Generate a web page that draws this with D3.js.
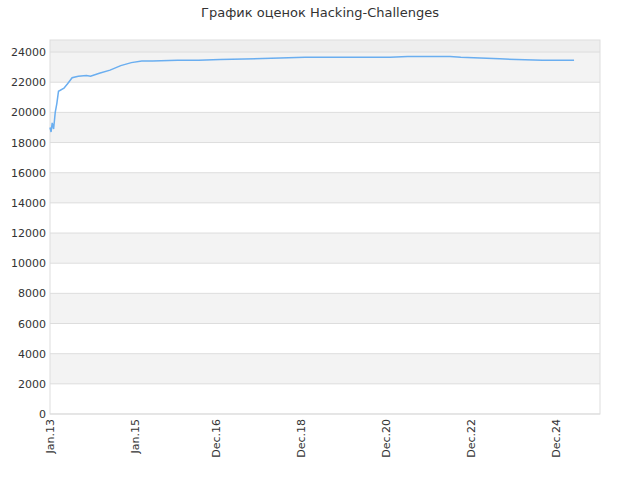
<!DOCTYPE html>
<html><head><meta charset="utf-8">
<script src="https://cdn.jsdelivr.net/npm/d3@7"></script>
<style>body{margin:0;background:#fff;font-family:"DejaVu Sans",sans-serif;}</style>
</head><body>
<svg id="chart" width="640" height="480"></svg>
<script>
const fechas = ["2013-01-01","2013-01-10","2013-01-20","2013-02-01","2013-02-15","2013-03-01","2013-03-15","2013-05-01","2013-06-01",
  "2013-07-10","2013-09-01","2013-11-10","2013-12-15","2014-03-01","2014-06-01","2014-09-01","2014-12-01","2015-03-01","2015-06-01",
  "2016-01-01","2016-07-01","2017-01-01","2018-06-01","2019-01-01","2021-01-01","2021-06-01","2022-06-01","2022-09-01",
  "2023-08-01","2024-08-01","2025-05-01"];
const valores = [19000,18700,19300,18900,20000,20600,21400,21600,21900,
  22300,22400,22450,22400,22600,22800,23100,23300,23400,23400,
  23450,23450,23500,23600,23650,23650,23700,23700,23650,
  23550,23450,23450];
const ticksX = ["2013-01-01","2015-01-01","2016-12-01","2018-12-01","2020-12-01","2022-12-01","2024-12-01"];
const etiquetasX = ["Jan.13","Jan.15","Dec.16","Dec.18","Dec.20","Dec.22","Dec.24"];
const ticksY = [0,2000,4000,6000,8000,10000,12000,14000,16000,18000,20000,22000,24000];

const svg = d3.select('#chart');
const izq = 50, der = 600, arriba = 40, abajo = 414;
const parse = d3.timeParse('%Y-%m-%d');
const x = d3.scaleTime().domain([parse("2013-01-01"), parse("2025-12-10")]).range([izq, der]);
const y = d3.scaleLinear().domain([0, 24800]).range([abajo, arriba]);

// bandas
svg.append('rect').attr('x', izq).attr('width', der - izq)
  .attr('y', y(24800)).attr('height', y(24000) - y(24800)).attr('fill', '#eeeeee');
ticksY.slice(0, -1).forEach((t, i) => {
  if (i % 2 === 1) svg.append('rect').attr('x', izq).attr('width', der - izq)
    .attr('y', y(t + 2000)).attr('height', y(t) - y(t + 2000)).attr('fill', '#f3f3f3');
});
svg.selectAll('line.grid').data(ticksY).join('line')
  .attr('x1', izq).attr('x2', der).attr('y1', d => y(d)).attr('y2', d => y(d))
  .attr('stroke', '#dddddd');
svg.append('rect').attr('x', izq).attr('y', arriba).attr('width', der - izq).attr('height', abajo - arriba)
  .attr('fill', 'none').attr('stroke', '#dddddd');

svg.selectAll('text.ylab').data(ticksY).join('text')
  .attr('x', izq - 4).attr('y', d => y(d) + 4).attr('text-anchor', 'end')
  .attr('font-size', 11).attr('fill', '#333').text(d => d);

svg.selectAll('text.xlab').data(ticksX).join('text')
  .attr('transform', d => `translate(${x(parse(d)) + 4},${abajo + 5}) rotate(-90)`)
  .attr('text-anchor', 'end').attr('font-size', 11).attr('fill', '#333')
  .text((d, i) => etiquetasX[i]);

const datos = fechas.map((f, i) => ({ t: parse(f), v: valores[i] }));
const linea = d3.line().x(d => x(d.t)).y(d => y(d.v));
svg.append('path').datum(datos).attr('d', linea)
  .attr('fill', 'none').attr('stroke', '#6aaef0').attr('stroke-width', 1.5);

svg.append('text').attr('x', 320).attr('y', 17).attr('text-anchor', 'middle')
  .attr('font-size', 13).attr('fill', '#333').text('График оценок Hacking-Challenges');
</script>
</body></html>
